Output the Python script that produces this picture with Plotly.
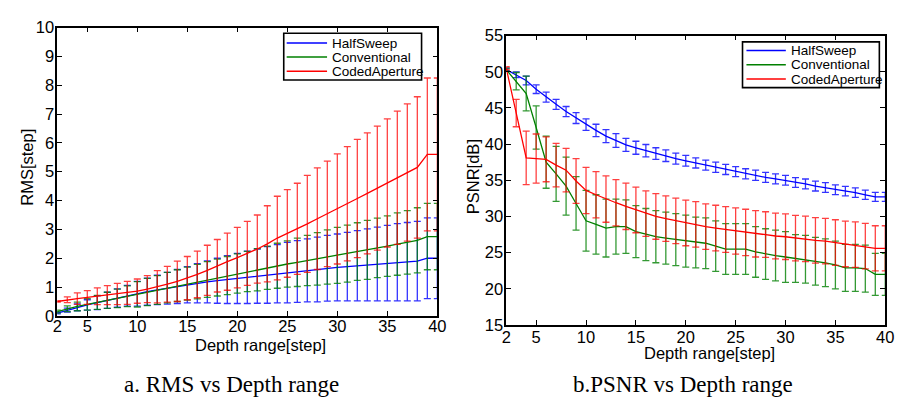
import plotly.graph_objects as go

depth = list(range(2, 41))

# ---- RMS (left) ----
rms_half = [0.10, 0.20, 0.30, 0.38, 0.46, 0.54, 0.62, 0.70, 0.77, 0.84, 0.90, 0.96, 1.02, 1.08,
            1.13, 1.18, 1.22, 1.26, 1.30, 1.34, 1.38, 1.42, 1.46, 1.50, 1.54, 1.58, 1.61, 1.65,
            1.68, 1.71, 1.74, 1.77, 1.80, 1.83, 1.86, 1.88, 1.90, 2.00, 2.00]
rms_half_sd = [0.03, 0.07, 0.12, 0.18, 0.24, 0.28, 0.32, 0.36, 0.43, 0.47, 0.51, 0.55, 0.59, 0.63,
               0.68, 0.73, 0.78, 0.83, 0.87, 0.91, 0.94, 0.98, 1.01, 1.05, 1.07, 1.09, 1.12, 1.14,
               1.16, 1.19, 1.22, 1.25, 1.28, 1.31, 1.34, 1.36, 1.38, 1.40, 1.40]
rms_conv = [0.15, 0.25, 0.33, 0.40, 0.47, 0.54, 0.61, 0.68, 0.75, 0.83, 0.90, 0.98, 1.05, 1.12,
            1.19, 1.26, 1.33, 1.40, 1.47, 1.54, 1.60, 1.67, 1.74, 1.80, 1.86, 1.92, 1.98, 2.04,
            2.10, 2.16, 2.23, 2.29, 2.36, 2.42, 2.49, 2.55, 2.62, 2.75, 2.75]
rms_conv_sd = [0.05, 0.10, 0.15, 0.20, 0.24, 0.28, 0.32, 0.36, 0.44, 0.47, 0.50, 0.53, 0.55, 0.57,
               0.60, 0.62, 0.64, 0.66, 0.68, 0.70, 0.73, 0.75, 0.78, 0.80, 0.84, 0.87, 0.91, 0.94,
               0.97, 0.99, 1.00, 1.02, 1.03, 1.05, 1.08, 1.10, 1.13, 1.15, 1.15]
rms_coded = [0.50, 0.56, 0.60, 0.64, 0.68, 0.72, 0.76, 0.80, 0.86, 0.93, 1.01, 1.10, 1.20, 1.31,
             1.44, 1.58, 1.74, 1.88, 2.02, 2.17, 2.32, 2.50, 2.70, 2.86, 3.02, 3.19, 3.37, 3.54,
             3.71, 3.89, 4.07, 4.25, 4.43, 4.61, 4.79, 4.97, 5.15, 5.60, 5.60]
rms_coded_sd = [0.02, 0.10, 0.20, 0.24, 0.29, 0.33, 0.37, 0.40, 0.42, 0.47, 0.56, 0.62, 0.70, 0.75,
                0.81, 0.87, 0.91, 0.99, 1.05, 1.11, 1.18, 1.32, 1.45, 1.52, 1.58, 1.68, 1.76, 1.83,
                1.91, 1.98, 2.05, 2.10, 2.15, 2.22, 2.31, 2.38, 2.45, 2.65, 2.65]

# ---- PSNR (right) ----
psnr_half = [50.3, 49.6, 48.8, 47.6, 46.5, 45.5, 44.5, 43.6, 42.7, 41.9, 41.1, 40.5, 39.9, 39.5,
             39.1, 38.7, 38.4, 38.0, 37.7, 37.4, 37.1, 36.8, 36.5, 36.2, 35.9, 35.7, 35.4, 35.2,
             35.0, 34.7, 34.5, 34.2, 34.0, 33.7, 33.5, 33.3, 33.0, 32.7, 32.7]
psnr_half_sd = [0.2, 0.4, 0.6, 0.6, 0.7, 0.7, 0.7, 0.75, 0.8, 0.85, 0.9, 0.95, 0.9, 0.9,
                0.85, 0.8, 0.8, 0.75, 0.75, 0.7, 0.7, 0.7, 0.7, 0.7, 0.7, 0.7, 0.7, 0.7,
                0.68, 0.68, 0.68, 0.68, 0.68, 0.68, 0.66, 0.66, 0.65, 0.62, 0.62]
psnr_conv = [50.3, 48.7, 47.0, 42.3, 37.5, 35.9, 34.2, 31.8, 29.4, 28.9, 28.4, 28.6, 28.6, 27.9,
             27.5, 27.2, 27.0, 26.8, 26.6, 26.4, 26.3, 25.9, 25.5, 25.5, 25.5, 25.1, 24.8, 24.6,
             24.4, 24.2, 24.1, 23.8, 23.6, 23.3, 22.9, 22.9, 22.8, 22.0, 22.0]
psnr_conv_sd = [0.2, 1.2, 2.4, 3.0, 3.6, 3.8, 4.0, 3.7, 4.2, 4.1, 4.0, 3.8, 3.7, 3.6,
                3.6, 3.6, 3.6, 3.6, 3.6, 3.5, 3.5, 3.5, 3.5, 3.5, 3.5, 3.5, 3.5, 3.5,
                3.5, 3.3, 3.3, 3.3, 3.3, 3.3, 3.25, 3.25, 3.25, 2.9, 2.9]
psnr_coded = [50.5, 44.3, 38.1, 38.0, 37.9, 37.1, 36.4, 34.9, 33.6, 33.0, 32.4, 31.9, 31.4, 30.9,
              30.4, 30.0, 29.7, 29.4, 29.1, 28.9, 28.6, 28.4, 28.2, 28.0, 27.8, 27.6, 27.5, 27.3,
              27.2, 27.0, 26.9, 26.7, 26.6, 26.4, 26.2, 26.1, 25.9, 25.6, 25.6]
psnr_coded_sd = [0.2, 1.9, 3.7, 3.4, 3.1, 3.0, 3.0, 3.1, 3.2, 3.2, 3.2, 3.2, 3.2, 3.15,
                 3.15, 3.15, 3.15, 3.15, 3.15, 3.15, 3.15, 3.15, 3.15, 3.2, 3.2, 3.2, 3.15, 3.15,
                 3.15, 3.15, 3.15, 3.15, 3.15, 3.15, 3.15, 3.15, 3.15, 3.12, 3.12]

names = ["HalfSweep", "Conventional", "CodedAperture"]
colors = ["rgb(0,0,255)", "rgb(0,128,0)", "rgb(255,0,0)"]
err_colors = ["rgba(0,0,255,0.8)", "rgba(0,128,0,0.8)", "rgba(255,0,0,0.75)"]

x_ticks = [2, 5, 10, 15, 20, 25, 30, 35, 40]

W, H = 903, 400
SANS = "Liberation Sans, Arial, sans-serif"

fig = go.Figure()

left = [(rms_half, rms_half_sd), (rms_conv, rms_conv_sd), (rms_coded, rms_coded_sd)]
right = [(psnr_half, psnr_half_sd), (psnr_conv, psnr_conv_sd), (psnr_coded, psnr_coded_sd)]

for i, (vals, sd) in enumerate(left):
    fig.add_trace(go.Scatter(
        x=depth, y=vals, mode="lines", name=names[i], showlegend=False,
        line=dict(color=colors[i], width=1.3),
        error_y=dict(type="data", array=sd, visible=True, color=err_colors[i],
                     thickness=1.3, width=3.5),
        xaxis="x", yaxis="y"))

for i, (vals, sd) in enumerate(right):
    fig.add_trace(go.Scatter(
        x=depth, y=vals, mode="lines", name=names[i], showlegend=False,
        line=dict(color=colors[i], width=1.3),
        error_y=dict(type="data", array=sd, visible=True, color=err_colors[i],
                     thickness=1.3, width=3.5),
        xaxis="x2", yaxis="y2"))

tick_font = dict(family=SANS, size=16.5, color="black")
axis_common = dict(showline=True, linecolor="black", linewidth=1.6, mirror="ticks",
                   ticks="inside", ticklen=5, tickcolor="black", showgrid=False,
                   zeroline=False, tickfont=tick_font)

fig.update_layout(
    width=W, height=H,
    margin=dict(l=0, r=0, t=0, b=0),
    paper_bgcolor="white", plot_bgcolor="white",
    showlegend=False,
    xaxis=dict(domain=[45 / W, 431 / W], range=[2, 40], tickvals=x_ticks,
               anchor="y", ticklabelstandoff=-6, **axis_common),
    yaxis=dict(domain=[(H - 313) / H, (H - 11) / H], range=[0, 10], dtick=1,
               anchor="x", ticklabelstandoff=-2, **axis_common),
    xaxis2=dict(domain=[501 / W, 886 / W], range=[2, 40], tickvals=x_ticks,
                anchor="y2", ticklabelstandoff=-4, **axis_common),
    yaxis2=dict(domain=[(H - 322.5) / H, (H - 19.5) / H], range=[15, 55], dtick=5,
                anchor="x2", ticklabelstandoff=-2, **axis_common),
)

# ---- legends drawn as boxes, sample lines and labels (paper pixel layout) ----
shapes = []
annotations = []

def add_legend(box, line_x, rows, text_x):
    x0, y0, x1, y1 = box
    shapes.append(dict(type="rect", xref="paper", yref="paper",
                       x0=x0 / W, x1=x1 / W, y0=1 - y0 / H, y1=1 - y1 / H,
                       line=dict(color="black", width=1.6), fillcolor="white", layer="above"))
    for name, color, ry in zip(names, colors, rows):
        shapes.append(dict(type="line", xref="paper", yref="paper",
                           x0=line_x[0] / W, x1=line_x[1] / W, y0=1 - ry / H, y1=1 - ry / H,
                           line=dict(color=color, width=1.5), layer="above"))
        annotations.append(dict(text=name, x=text_x / W, y=1 - ry / H, xanchor="left",
                                yanchor="middle", font=dict(family=SANS, size=13.5, color="black")))

add_legend((275, 17, 415, 66), (278, 319), (27.3, 42, 56.7), 322)
add_legend((741, 26, 880, 74), (745, 785), (35, 50, 65), 788)

title_font = dict(family=SANS, size=16.5, color="black")
cap_font = dict(family="Liberation Serif, Times New Roman, serif", size=23, color="black")

annotations += [
    dict(text="Depth range[step]", x=251 / W, y=1 - 343 / H, xanchor="center", yanchor="middle", font=title_font),
    dict(text="Depth range[step]", x=707 / W, y=1 - 352 / H, xanchor="center", yanchor="middle", font=title_font),
    dict(text="RMS[step]", x=14 / W, y=1 - 157 / H, textangle=-90, xanchor="center", yanchor="middle", font=title_font),
    dict(text="PSNR[dB]", x=468 / W, y=1 - 167 / H, textangle=-90, xanchor="center", yanchor="middle", font=title_font),
    dict(text="a. RMS vs Depth range", x=222 / W, y=1 - 385 / H, xanchor="center", yanchor="middle", font=cap_font),
    dict(text="b.PSNR vs Depth range", x=681 / W, y=1 - 385 / H, xanchor="center", yanchor="middle", font=cap_font),
]
for a in annotations:
    a.update(xref="paper", yref="paper", showarrow=False)

fig.update_layout(shapes=shapes, annotations=annotations)

fig.write_html("out.html")
